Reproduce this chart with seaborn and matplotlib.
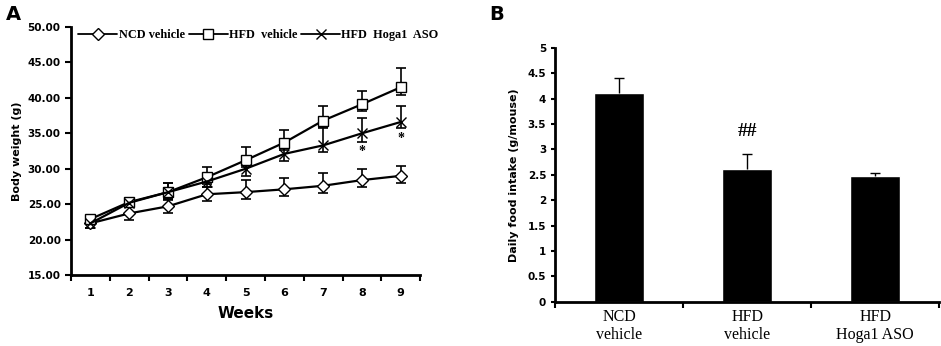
import matplotlib
matplotlib.use("Agg")
import matplotlib.pyplot as plt
from matplotlib.ticker import FixedLocator
import numpy as np
import pandas as pd
import seaborn as sns

# ---- data: panel A (body weight, g) ----
weeks = [1, 2, 3, 4, 5, 6, 7, 8, 9]
ncd_mean = [22.3, 23.7, 24.7, 26.4, 26.7, 27.1, 27.6, 28.4, 29.0]
ncd_err_lo = [0.6, 0.9, 0.9, 1.0, 0.9, 1.0, 1.0, 1.0, 1.0]
ncd_err_hi = [0.6, 0.9, 0.9, 1.0, 1.7, 1.6, 1.8, 1.6, 1.4]
hfd_mean = [22.9, 25.3, 26.7, 28.8, 31.2, 33.7, 36.8, 39.1, 41.5]
hfd_err_lo = [0.4, 0.5, 1.0, 1.0, 1.0, 1.0, 1.0, 1.0, 1.1]
hfd_err_hi = [0.5, 0.6, 1.3, 1.4, 1.8, 1.7, 2.0, 1.9, 2.7]
aso_mean = [22.3, 25.2, 26.7, 28.2, 30.0, 32.1, 33.3, 35.0, 36.6]
aso_err_lo = [0.6, 0.5, 1.0, 0.8, 1.0, 1.0, 0.9, 1.2, 0.9]
aso_err_hi = [0.6, 0.5, 1.3, 0.8, 1.2, 0.8, 2.6, 2.1, 2.2]
star_weeks = [8, 9]
star_y = [32.4, 34.2]

# ---- data: panel B (daily food intake, g/mouse) ----
groups = ["NCD\nvehicle", "HFD\nvehicle", "HFD\nHoga1 ASO"]
intake = [4.10, 2.62, 2.47]
intake_err = [0.30, 0.28, 0.06]

sns.set_style("ticks")
plt.rcParams["font.family"] = ["DejaVu Sans"]
plt.rcParams["text.color"] = "black"
plt.rcParams["xtick.color"] = "black"
plt.rcParams["ytick.color"] = "black"
plt.rcParams["axes.labelcolor"] = "black"
plt.rcParams["axes.edgecolor"] = "black"

fig = plt.figure(figsize=(9.41, 3.46), dpi=100)
axA = fig.add_axes([0.0755, 0.205, 0.371, 0.717])
axB = fig.add_axes([0.590, 0.128, 0.408, 0.734])

# ---------------- panel A ----------------
series = [
    ("NCD vehicle", ncd_mean, ncd_err_lo, ncd_err_hi, "D", 6.0, "white"),
    ("HFD  vehicle", hfd_mean, hfd_err_lo, hfd_err_hi, "s", 7.0, "white"),
    ("HFD  Hoga1  ASO", aso_mean, aso_err_lo, aso_err_hi, "x", 7.0, "black"),
]
for name, m, lo, hi, mk, ms, fc in series:
    axA.errorbar(weeks, m, yerr=[lo, hi], fmt="none", ecolor="black",
                 elinewidth=1.2, capsize=3.5, capthick=1.2, zorder=2)
    sns.lineplot(x=weeks, y=m, color="black", marker=mk, markersize=ms,
                 markerfacecolor=fc, markeredgecolor="black",
                 markeredgewidth=1.0, linewidth=1.6, label=name, ax=axA,
                 zorder=3)

for w, y in zip(star_weeks, star_y):
    axA.text(w, y, "*", ha="center", va="center", fontsize=10,
             fontweight="bold", family="Liberation Serif")

axA.set_xlim(0.5, 9.5)
axA.set_ylim(15, 50)
axA.set_xticks(weeks)
axA.set_xticklabels([str(w) for w in weeks], fontsize=8, fontweight="bold")
axA.xaxis.set_minor_locator(FixedLocator(np.arange(0.5, 10, 1)))
axA.tick_params(axis="x", which="major", length=0, pad=9)
axA.tick_params(axis="x", which="minor", length=4, width=1.5, direction="out")
axA.set_yticks(np.arange(15, 50.1, 5))
axA.set_yticklabels([f"{v:.2f}" for v in np.arange(15, 50.1, 5)],
                    fontsize=7.5, fontweight="bold")
axA.tick_params(axis="y", length=4, width=1.5, direction="out")
axA.set_xlabel("Weeks", fontsize=11, fontweight="bold", labelpad=6)
axA.set_ylabel("Body weight (g)", fontsize=8, fontweight="bold")
for s in ["left", "bottom"]:
    axA.spines[s].set_linewidth(2)
sns.despine(ax=axA)

leg = axA.legend(loc="upper left", bbox_to_anchor=(0.0, 1.02), ncol=3,
                 frameon=False, handlelength=3.2, handletextpad=0.1,
                 columnspacing=0.3, borderaxespad=0.2,
                 prop={"family": "Liberation Serif", "weight": "bold", "size": 8.8})
for h in leg.legend_handles:
    h.set_linewidth(1.3)

# ---------------- panel B ----------------
dfB = pd.DataFrame({"group": groups, "intake": intake})
sns.barplot(data=dfB, x="group", y="intake", color="black", width=0.39,
            errorbar=None, ax=axB, saturation=1)
eb = axB.errorbar(range(len(groups)), intake,
                  yerr=[np.zeros(len(intake)), intake_err], fmt="none",
                  ecolor="black", elinewidth=1.0, capsize=3.5, capthick=1.0)
eb[1][0].set_visible(False)  # hide lower caps, only the plus bar is shown
axB.text(1, 3.35, "##", ha="center", va="center", fontsize=14,
         fontweight="bold", family="Liberation Serif")

axB.set_xlim(-0.5, 2.5)
axB.set_ylim(0, 5)
axB.set_yticks(np.arange(0, 5.01, 0.5))
axB.set_yticklabels(["0", "0.5", "1", "1.5", "2", "2.5", "3", "3.5", "4", "4.5", "5"],
                    fontsize=7.5, fontweight="bold")
axB.tick_params(axis="y", length=3, width=1.5, direction="out")
axB.set_xticks(range(len(groups)))
axB.set_xticklabels(groups, fontsize=11.5, family="Liberation Serif",
                    linespacing=1.2)
axB.xaxis.set_minor_locator(FixedLocator([-0.5, 0.5, 1.5, 2.5]))
axB.tick_params(axis="x", which="major", length=0, pad=5)
axB.tick_params(axis="x", which="minor", length=4, width=1.5, direction="out")
axB.set_xlabel("")
axB.set_ylabel("Daily food intake (g/mouse)", fontsize=8, fontweight="bold",
               labelpad=6)
for s in ["left", "bottom"]:
    axB.spines[s].set_linewidth(2)
sns.despine(ax=axB)

fig.text(0.006, 0.985, "A", fontsize=14, fontweight="bold", va="top")
fig.text(0.520, 0.985, "B", fontsize=14, fontweight="bold", va="top")

fig.savefig("out.png", dpi=100)
